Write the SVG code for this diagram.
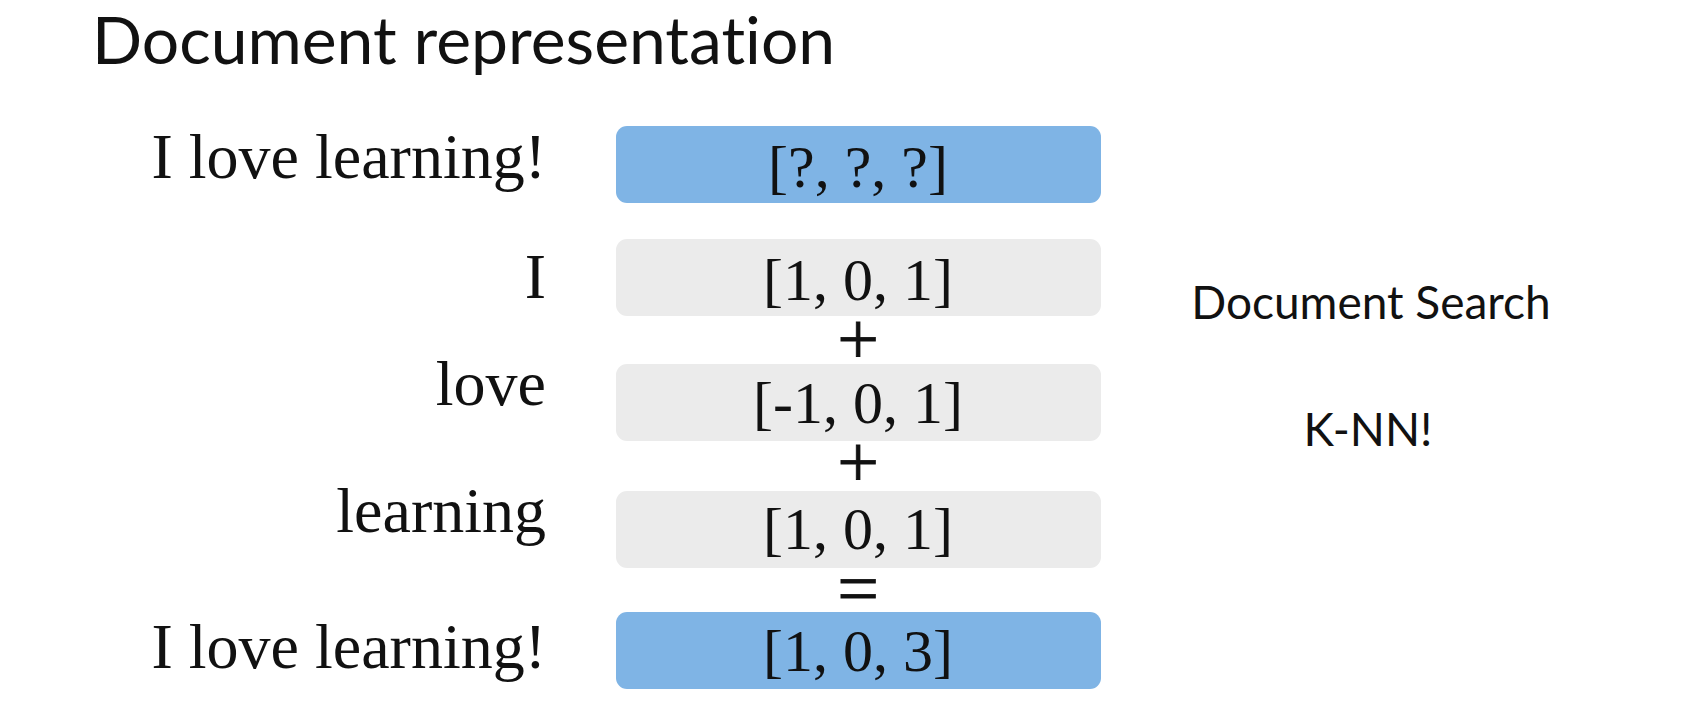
<svg xmlns="http://www.w3.org/2000/svg" width="1696" height="717" viewBox="0 0 1696 717">
  <style>
    .title { font-family: Lato, "Open Sans", sans-serif; font-size: 66px; fill: #111; font-variant-ligatures: none; }
    .side { font-family: Lato, "Open Sans", sans-serif; font-size: 46px; fill: #111; text-anchor: middle; font-variant-ligatures: none; }
    .label { font-family: "Liberation Serif", "Times New Roman", serif; font-size: 64px; fill: #111; text-anchor: end; }
    .vec { font-family: "Liberation Serif", "Times New Roman", serif; font-size: 60px; fill: #111; text-anchor: middle; }
    .op { font-family: "Liberation Serif", "Times New Roman", serif; font-size: 74px; fill: #111; stroke: #111; stroke-width: 0.8; text-anchor: middle; }
    .doc { fill: #7fb4e5; }
    .word { fill: #ebebeb; }
  </style>

  <rect width="1696" height="717" fill="#ffffff"/>

  <text class="title" x="92" y="64">Document representation</text>

  <!-- document row: unknown vector -->
  <g id="doc-query">
    <text class="label" x="546" y="178">I love learning!</text>
    <rect class="doc" x="616" y="126" width="485" height="77" rx="11"/>
    <text class="vec" x="858" y="187">[?, ?, ?]</text>
  </g>

  <!-- word rows -->
  <g id="word-i">
    <text class="label" x="546" y="298">I</text>
    <rect class="word" x="616" y="239" width="485" height="77" rx="11"/>
    <text class="vec" x="858" y="300">[1, 0, 1]</text>
  </g>

  <g id="word-love">
    <text class="label" x="546" y="405">love</text>
    <rect class="word" x="616" y="364" width="485" height="77" rx="11"/>
    <text class="vec" x="858" y="423">[-1, 0, 1]</text>
  </g>

  <g id="word-learning">
    <text class="label" x="546" y="532">learning</text>
    <rect class="word" x="616" y="491" width="485" height="77" rx="11"/>
    <text class="vec" x="858" y="549">[1, 0, 1]</text>
  </g>

  <!-- document row: summed vector -->
  <g id="doc-result">
    <text class="label" x="546" y="668">I love learning!</text>
    <rect class="doc" x="616" y="612" width="485" height="77" rx="11"/>
    <text class="vec" x="858" y="671">[1, 0, 3]</text>
  </g>

  <!-- operators between rows -->
  <g id="operators">
    <text class="op" x="858" y="364">+</text>
    <text class="op" x="858" y="487">+</text>
    <text class="op" x="858" y="613">=</text>
  </g>

  <g id="uses">
    <text class="side" x="1371" y="319">Document Search</text>
    <text class="side" x="1368" y="446">K-NN!</text>
  </g>
</svg>
